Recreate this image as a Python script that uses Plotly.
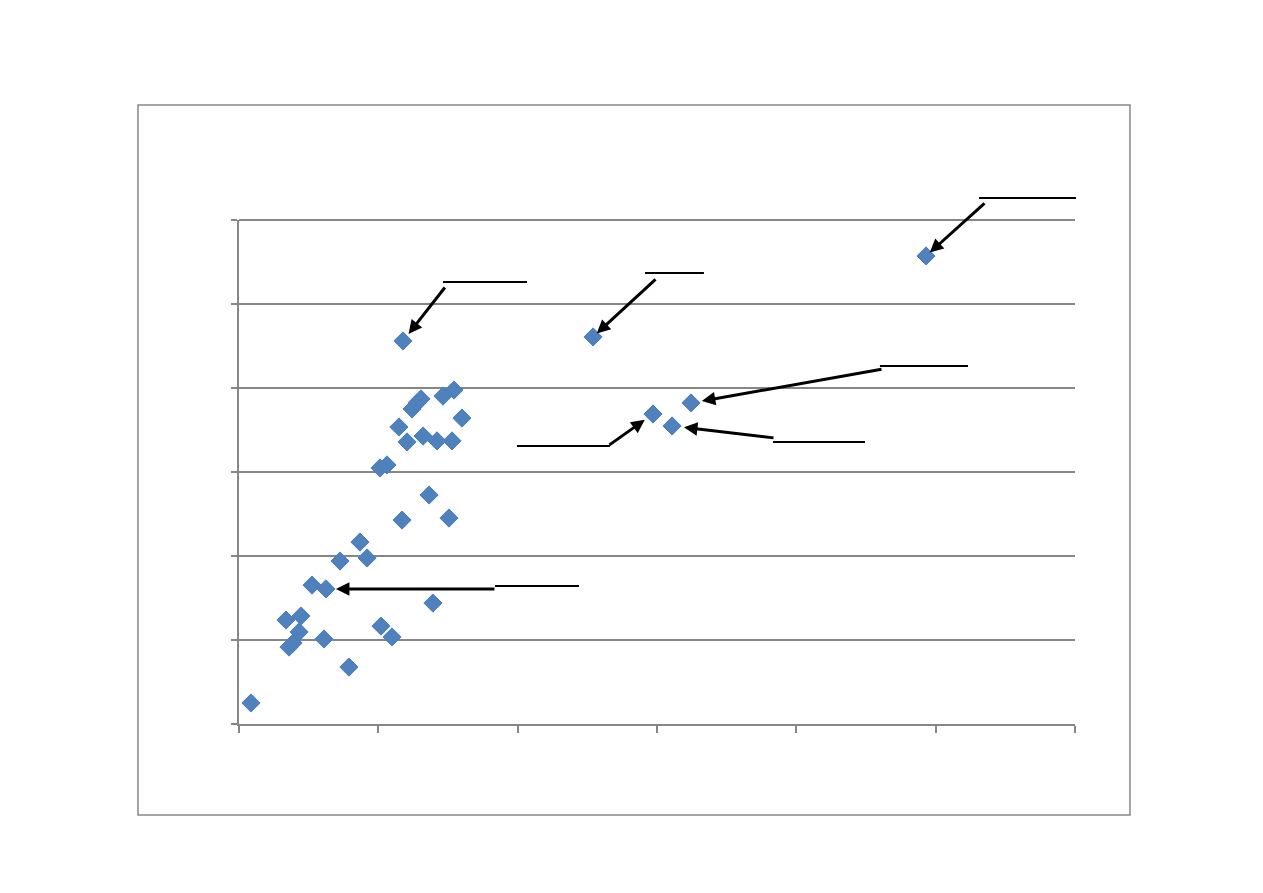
import plotly.graph_objects as go

# ---- data (axis units arbitrary, no labels shown) ----
x_vals = [8.6, 33.7, 35.9, 38.8, 43.1, 44.5, 52.4, 61.0, 62.4, 72.5,
          78.9, 86.8, 91.9, 101.2, 106.2, 101.9, 109.8, 114.8, 117.0, 117.7,
          120.6, 124.2, 127.8, 130.6, 132.1, 136.4, 139.2, 142.1, 146.4, 150.7,
          152.9, 154.3, 160.0, 254.1, 297.1, 310.8, 324.4, 493.1]
y_vals = [12.5, 61.9, 45.8, 48.2, 54.8, 64.3, 82.7, 50.6, 80.4, 97.0,
          33.9, 108.3, 98.8, 152.4, 154.2, 58.3, 51.8, 176.8, 121.4, 228.0,
          167.9, 187.5, 191.1, 193.5, 171.4, 136.3, 72.0, 168.5, 195.2, 122.6,
          168.5, 198.8, 182.1, 230.4, 184.5, 177.4, 191.1, 278.6]

x_range = [0, 600]
y_range = [0, 300]
x_dtick = 100
y_dtick = 50

# callouts: index of pointed point, arrow tail (data units), underline (x0, x1, y), standoff px
callout_point = [19, 33, 37, 36, 35, 34, 8]
callout_tail = [(148.6, 260.7), (300.0, 265.5), (536.1, 310.7), (462.2, 211.3),
                (384.7, 170.2), (264.8, 165.5), (184.4, 80.4)]
callout_line = [(146.4, 206.7, 263.1), (291.4, 333.7, 268.5), (531.1, 600.7, 313.1),
                (460.0, 523.2, 213.1), (383.3, 449.3, 167.9), (199.5, 266.2, 165.5),
                (183.7, 244.0, 82.1)]
callout_standoff = [9, 5, 5, 11, 12, 10, 10]


def xp(v):
    return (v - x_range[0]) / (x_range[1] - x_range[0])


def yp(v):
    return (v - y_range[0]) / (y_range[1] - y_range[0])


fig = go.Figure()
fig.add_trace(go.Scatter(
    x=x_vals, y=y_vals, mode="markers",
    marker=dict(symbol="diamond", size=14, color="#4F81BD",
                line=dict(color="#4A7EBB", width=1)),
    showlegend=False, hoverinfo="x+y",
))

annotations = []
for idx, (tx, ty), so in zip(callout_point, callout_tail, callout_standoff):
    annotations.append(dict(
        x=x_vals[idx], y=y_vals[idx], xref="x", yref="y",
        ax=tx, ay=ty, axref="x", ayref="y",
        text="", showarrow=True, arrowhead=2, arrowsize=0.9,
        arrowwidth=3, arrowcolor="#000000", standoff=so,
    ))

shapes = []
for x0, x1, yy in callout_line:
    shapes.append(dict(type="line", xref="paper", yref="paper",
                       x0=xp(x0), x1=xp(x1), y0=yp(yy), y1=yp(yy),
                       line=dict(color="#000000", width=2), layer="above"))

# top gridline (at the end of the value range)
shapes.append(dict(type="line", xref="paper", yref="paper",
                   x0=0, x1=1, y0=1, y1=1,
                   line=dict(color="#868686", width=2), layer="below"))

# outer chart-area border (paper units relative to plot area)
plot_l, plot_r, plot_t, plot_b = 239, 1075, 220, 724
pw, ph = plot_r - plot_l, plot_b - plot_t
bx0, bx1, by0, by1 = 138, 1130, 105, 815
shapes.append(dict(type="rect", xref="paper", yref="paper",
                   x0=(bx0 - plot_l) / pw, x1=(bx1 - plot_l) / pw,
                   y0=(plot_b - by1) / ph, y1=(plot_b - by0) / ph,
                   line=dict(color="#888888", width=1.5), layer="below"))

fig.update_layout(
    width=1263, height=893,
    margin=dict(l=plot_l, r=1263 - plot_r, t=plot_t, b=893 - plot_b, pad=0),
    paper_bgcolor="white", plot_bgcolor="white",
    annotations=annotations, shapes=shapes,
    xaxis=dict(range=x_range, dtick=x_dtick, tick0=0, showgrid=False,
               showticklabels=False, zeroline=False, showline=True,
               linecolor="#868686", linewidth=2, ticks="outside",
               ticklen=7, tickwidth=2, tickcolor="#868686", fixedrange=True),
    yaxis=dict(range=y_range, dtick=y_dtick, tick0=0, showgrid=True,
               gridcolor="#868686", gridwidth=2,
               showticklabels=False, zeroline=False, showline=True,
               linecolor="#868686", linewidth=2, ticks="outside",
               ticklen=6, tickwidth=2, tickcolor="#868686", fixedrange=True),
)

fig.write_html("out.html", config={"displayModeBar": False},
               post_script="document.body.style.margin='0';")
